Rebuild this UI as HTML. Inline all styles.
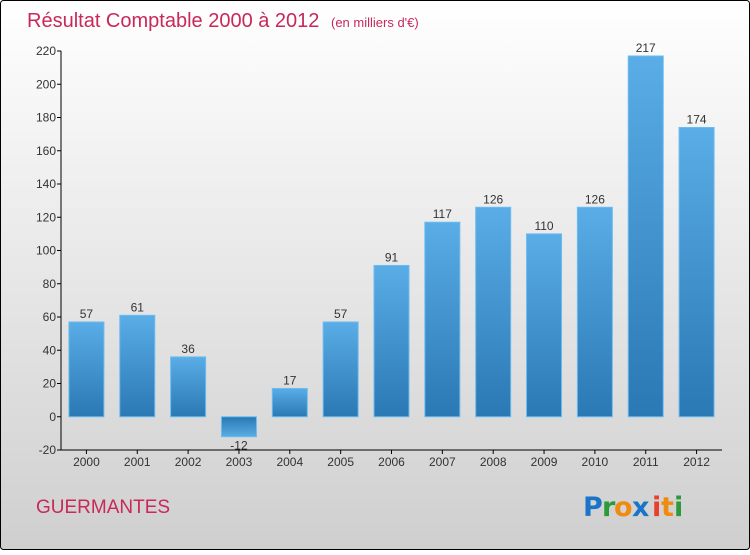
<!DOCTYPE html>
<html><head><meta charset="utf-8"><style>
body{margin:0;width:750px;height:550px;overflow:hidden;font-family:"Liberation Sans",sans-serif}
</style></head><body>
<svg width="750" height="550" xmlns="http://www.w3.org/2000/svg">
<defs>
<linearGradient id="bg" x1="0" y1="0" x2="0" y2="1"><stop offset="0" stop-color="#ffffff"/><stop offset="1" stop-color="#cfcfcf"/></linearGradient>
<linearGradient id="bar" x1="0" y1="0" x2="0" y2="1"><stop offset="0" stop-color="#5aade6"/><stop offset="1" stop-color="#2a78b4"/></linearGradient>
<linearGradient id="barn" x1="0" y1="0" x2="0" y2="1"><stop offset="0" stop-color="#2a78b4"/><stop offset="1" stop-color="#5aade6"/></linearGradient>
</defs>
<rect x="0.5" y="0.5" width="749" height="549" rx="3" fill="url(#bg)" stroke="#000"/>
<text x="27" y="27" font-size="20" fill="#c8285a">Résultat Comptable 2000 à 2012 <tspan font-size="13" dx="6">(en milliers d'€)</tspan></text>
<g id="axes"></g>
<g id="bars"></g>
<text x="36" y="513" font-size="19" fill="#c8285a">GUERMANTES</text>
<g font-size="27" font-family="'DejaVu Sans',sans-serif" font-weight="600">
<text x="583" y="516" fill="#1a75c9">P</text><text x="602" y="516" fill="#2a9a3a">r</text><text x="614" y="516" fill="#f08a10">o</text><text x="632" y="516" fill="#1a75c9">x</text><text x="652" y="516" fill="#e8402a">i</text><text x="661" y="516" fill="#f08a10">t</text><text x="674" y="516" fill="#2a9a3a">i</text>
</g>
</svg>
<script>
const categories=["2000","2001","2002","2003","2004","2005","2006","2007","2008","2009","2010","2011","2012"];
const values=[57,61,36,-12,17,57,91,117,126,110,126,217,174];
const ticks=[-20,0,20,40,60,80,100,120,140,160,180,200,220];
const NS="http://www.w3.org/2000/svg";
const x0=61,x1=722,yTop=51,yBot=450,vMin=-20,vMax=220;
const y=v=>yBot-(v-vMin)/(vMax-vMin)*(yBot-yTop);
const bw=(x1-x0)/categories.length;
const xc=i=>x0+bw*(i+0.5);
function mk(t,a,p){const e=document.createElementNS(NS,t);for(const k in a)e.setAttribute(k,a[k]);p.appendChild(e);return e;}
const ax=document.getElementById('axes'),bg=document.getElementById('bars');
const yl=mk('line',{x1:x0,y1:yTop,x2:x0,y2:yBot,stroke:'#000'},ax);


const xl=mk('line',{x1:x0,y1:yBot,x2:x1,y2:yBot,stroke:'#000'},ax);


ticks.forEach(t=>{
 mk('line',{x1:x0-4,y1:y(t),x2:x0,y2:y(t),stroke:'#000'},ax);
 const tx=mk('text',{x:x0-5,y:y(t)+4,'font-size':12,'text-anchor':'end',fill:'#333'},ax);
 tx.textContent=t;
 
 
});
categories.forEach((c,i)=>{
 mk('line',{x1:xc(i),y1:yBot,x2:xc(i),y2:yBot+4,stroke:'#000'},ax);
 const tx=mk('text',{x:xc(i),y:yBot+16,'font-size':12,'text-anchor':'middle',fill:'#333'},ax);
 tx.textContent=c;
 
 
 const v=values[i],top=Math.min(y(v),y(0)),h=Math.abs(y(v)-y(0));
 const r=mk('rect',{x:xc(i)-17.5,y:top,width:35,height:h,fill:v<0?'url(#barn)':'url(#bar)',stroke:'#6bbcf0','stroke-width':1},bg);
 
 
 const lb=mk('text',{x:xc(i),y:v<0?y(v)+13:y(v)-4,'font-size':12,'text-anchor':'middle',fill:'#333'},bg);
 lb.textContent=v;
 
 
});
</script>
</body></html>
